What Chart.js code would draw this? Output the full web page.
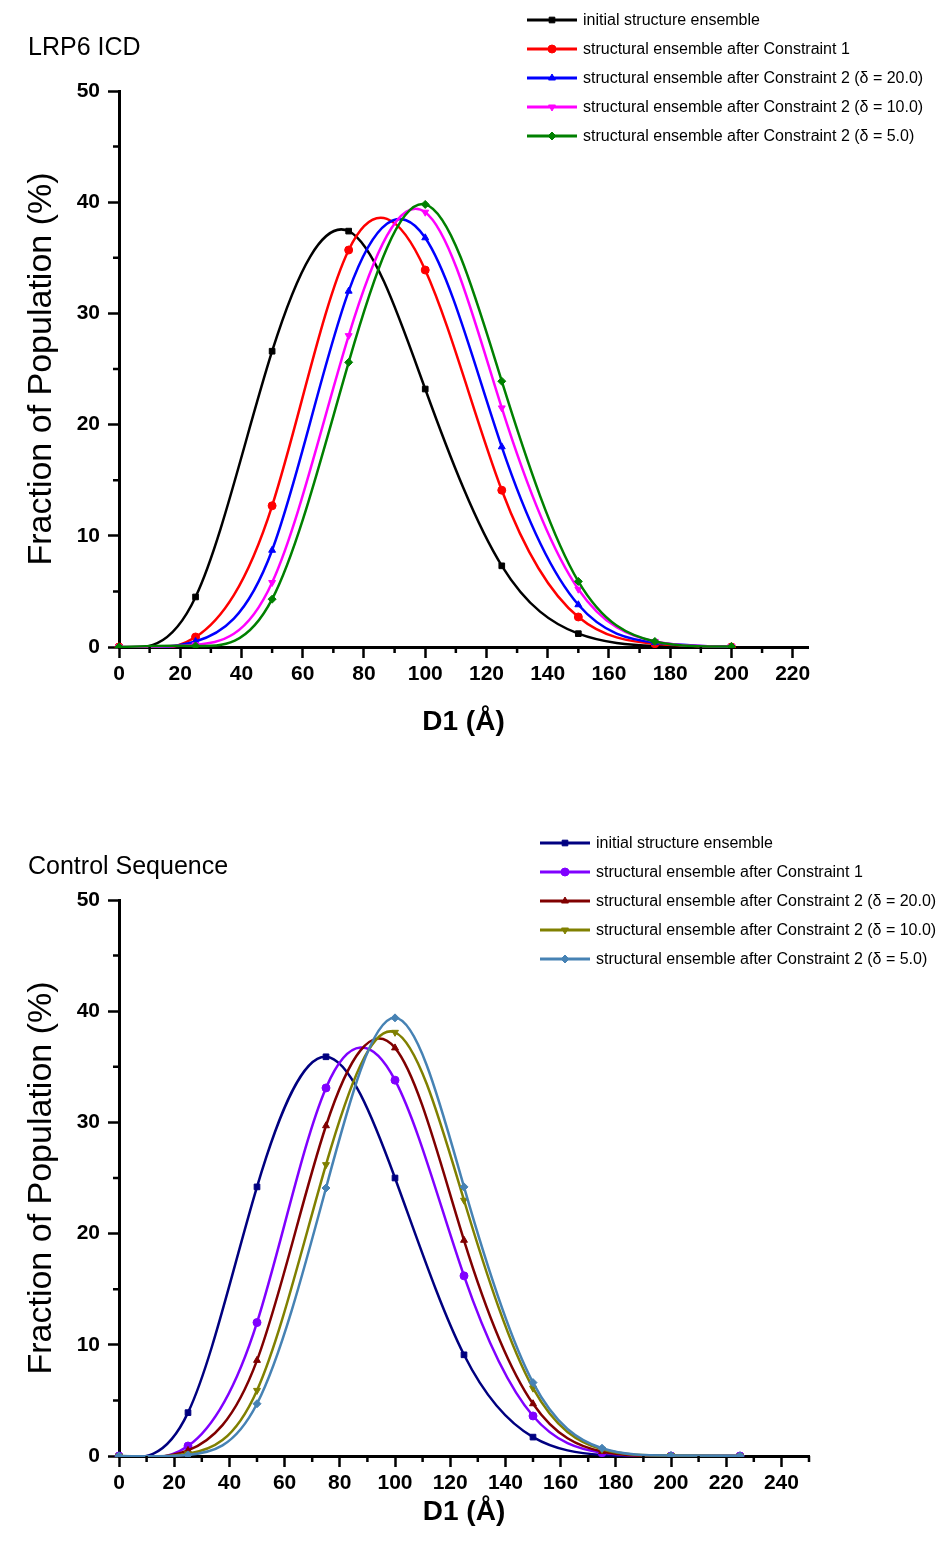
<!DOCTYPE html>
<html>
<head>
<meta charset="utf-8">
<script src="https://cdn.jsdelivr.net/npm/chart.js@4.4.1/dist/chart.umd.min.js"></script>
<style>
  html, body { margin: 0; padding: 0; background: #fff; }
  #wrap { position: relative; width: 947px; height: 1550px; }
  canvas { display: block; }
</style>
</head>
<body>
<div id="wrap">
  <canvas id="lrp6" width="947" height="775"></canvas>
  <canvas id="control" width="947" height="775"></canvas>
</div>
<script>
// D1 sample positions (Å)
const lrpD1 = [0, 25, 50, 75, 100, 125, 150, 175, 200];
const ctrlD1 = [0, 25, 50, 75, 100, 125, 150, 175, 200, 225];

const seriesNames = [
  'initial structure ensemble',
  'structural ensemble after Constraint 1',
  'structural ensemble after Constraint 2 (\u03b4 = 20.0)',
  'structural ensemble after Constraint 2 (\u03b4 = 10.0)',
  'structural ensemble after Constraint 2 (\u03b4 = 5.0)'
];

// LRP6 ICD - fraction of population (%)
const lrpInitial = [0, 4.5, 26.6, 37.4, 23.2, 7.3, 1.2, 0.1, 0];
const lrpC1      = [0, 0.9, 12.7, 35.7, 33.9, 14.1, 2.7, 0.3, 0];
const lrpD20     = [0, 0.5, 8.7, 32.0, 36.8, 18.0, 3.8, 0.4, 0];
const lrpD10     = [0, 0.2, 5.8, 28.0, 39.1, 21.5, 5.2, 0.5, 0.05];
const lrpD5      = [0, 0.1, 4.3, 25.6, 39.8, 23.9, 5.9, 0.5, 0.05];

// Control sequence - fraction of population (%)
const ctrlInitial = [0, 3.9, 24.2, 35.9, 25.0, 9.1, 1.7, 0.1, 0, 0];
const ctrlC1      = [0, 0.9, 12.0, 33.1, 33.8, 16.2, 3.6, 0.3, 0, 0];
const ctrlD20     = [0, 0.5, 8.6, 29.7, 36.7, 19.4, 4.7, 0.4, 0, 0];
const ctrlD10     = [0, 0.2, 5.9, 26.2, 38.1, 23.0, 6.1, 0.6, 0.05, 0];
const ctrlD5      = [0, 0.1, 4.7, 24.1, 39.4, 24.2, 6.6, 0.7, 0.05, 0.02];

// tick labels
const yTicks = [0, 10, 20, 30, 40, 50];
const yMinor = [5, 15, 25, 35, 45];
const lrpXTicks = [0, 20, 40, 60, 80, 100, 120, 140, 160, 180, 200, 220];
const lrpXMinor = [10, 30, 50, 70, 90, 110, 130, 150, 170, 190, 210];
const ctrlXTicks = [0, 20, 40, 60, 80, 100, 120, 140, 160, 180, 200, 220, 240];
const ctrlXMinor = [10, 30, 50, 70, 90, 110, 130, 150, 170, 190, 210, 230, 250];

const lrpColors = ['#000000', '#ff0000', '#0000ff', '#ff00ff', '#008000'];
const ctrlColors = ['#000080', '#8000ff', '#800000', '#808000', '#4682b4'];
const markers = ['rect', 'circle', 'triangle', 'triangle', 'rectRot'];
const markerRot = [0, 0, 0, 180, 0];

const FONT = '"Liberation Sans", Arial, Helvetica, sans-serif';

// natural cubic spline through the points (like Origin's spline connect),
// written into the bezier control points Chart.js already uses
const naturalSpline = {
  id: 'naturalSpline',
  beforeDatasetsDraw(chart) {
    chart.data.datasets.forEach((ds, i) => {
      const meta = chart.getDatasetMeta(i);
      if (meta.dataset && meta.dataset.updateControlPoints) {
        meta.dataset.updateControlPoints(chart.chartArea, 'x');
      }
      const pts = meta.data;
      const n = pts.length;
      if (n < 3) return;
      const xs = pts.map(p => p.x), ys = pts.map(p => p.y);
      const h = [];
      for (let k = 0; k < n - 1; k++) h.push(xs[k + 1] - xs[k]);

      const a = [], b = [], c = [], d = [];
      for (let k = 1; k < n - 1; k++) {
        a.push(h[k - 1]);
        b.push(2 * (h[k - 1] + h[k]));
        c.push(h[k]);
        d.push(6 * ((ys[k + 1] - ys[k]) / h[k] - (ys[k] - ys[k - 1]) / h[k - 1]));
      }
      const m = b.length;
      for (let k = 1; k < m; k++) {
        const w = a[k] / b[k - 1];
        b[k] -= w * c[k - 1];
        d[k] -= w * d[k - 1];
      }
      const M = new Array(n).fill(0);
      M[m] = d[m - 1] / b[m - 1];
      for (let k = m - 2; k >= 0; k--) M[k + 1] = (d[k] - c[k] * M[k + 2]) / b[k];

      for (let k = 0; k < n; k++) {
        const p = pts[k];
        if (k < n - 1) {
          const hk = h[k];
          const s = (ys[k + 1] - ys[k]) / hk - hk * (2 * M[k] + M[k + 1]) / 6;
          p.cp2x = xs[k] + hk / 3;
          p.cp2y = ys[k] + s * hk / 3;
        }
        if (k > 0) {
          const hk = h[k - 1];
          const s = (ys[k] - ys[k - 1]) / hk + hk * (M[k - 1] + 2 * M[k]) / 6;
          p.cp1x = xs[k] - hk / 3;
          p.cp1y = ys[k] - s * hk / 3;
        }
      }
    });
  }
};

// minor ticks, panel title and legend (line + marker samples)
const extras = {
  id: 'extras',
  afterDraw(chart, args, opts) {
    const { ctx } = chart;
    const x = chart.scales.x, y = chart.scales.y;
    ctx.save();
    ctx.strokeStyle = '#000';
    ctx.lineWidth = 2.5;
    ctx.beginPath();
    opts.xMinor.forEach(v => {
      const px = x.getPixelForValue(v);
      ctx.moveTo(px, y.bottom);
      ctx.lineTo(px, y.bottom + 6);
    });
    opts.yMinor.forEach(v => {
      const py = y.getPixelForValue(v);
      ctx.moveTo(x.left, py);
      ctx.lineTo(x.left - 6, py);
    });
    ctx.stroke();

    ctx.fillStyle = '#000';
    ctx.textBaseline = 'middle';
    ctx.font = '25px ' + FONT;
    ctx.fillText(opts.title, 28, opts.titleY);

    ctx.font = '16px ' + FONT;
    chart.data.datasets.forEach((ds, i) => {
      const ly = opts.legendY + i * 29;
      const lx = opts.legendX;
      ctx.strokeStyle = ds.borderColor;
      ctx.lineWidth = 3;
      ctx.beginPath();
      ctx.moveTo(lx, ly);
      ctx.lineTo(lx + 50, ly);
      ctx.stroke();
      ctx.fillStyle = ds.borderColor;
      ctx.lineWidth = 1;
      Chart.helpers.drawPoint(ctx, {
        pointStyle: ds.pointStyle, rotation: ds.pointRotation, radius: 4, borderWidth: 1
      }, lx + 25, ly);
      ctx.fillStyle = '#000';
      ctx.fillText(ds.label, lx + 56, ly + 1);
    });
    ctx.restore();
  }
};

function makeChart(id, cfg) {
  const datasets = cfg.values.map((vals, i) => ({
    label: seriesNames[i],
    data: cfg.xs.map((d, j) => ({ x: d, y: vals[j] })),
    borderColor: cfg.colors[i],
    backgroundColor: cfg.colors[i],
    pointBackgroundColor: cfg.colors[i],
    pointBorderColor: cfg.colors[i],
    pointStyle: markers[i],
    pointRotation: markerRot[i],
    pointRadius: 4,
    pointHoverRadius: 4,
    pointBorderWidth: 1,
    borderWidth: 2.5,
    tension: 0.4,
    capBezierPoints: false,
    fill: false,
    clip: { left: 8, top: 8, right: 8, bottom: 1 },
    order: 5 - i
  }));

  return new Chart(document.getElementById(id), {
    type: 'line',
    data: { datasets },
    options: {
      responsive: false,
      animation: false,
      layout: { padding: cfg.padding },
      plugins: {
        legend: { display: false },
        tooltip: { enabled: false },
        extras: {
          title: cfg.title, titleY: cfg.titleY,
          legendX: cfg.legendX, legendY: cfg.legendY,
          xMinor: cfg.xMinor, yMinor: yMinor
        }
      },
      scales: {
        x: {
          type: 'linear',
          min: 0,
          max: cfg.xMax,
          afterBuildTicks: s => { s.ticks = cfg.xTicks.map(v => ({ value: v })); },
          afterFit: s => { s.height = cfg.xHeight; },
          grid: { drawOnChartArea: false, tickLength: 11, tickWidth: 2.5, tickColor: '#000' },
          border: { color: '#000', width: 3 },
          ticks: {
            color: '#000', padding: 4, maxRotation: 0, autoSkip: false,
            font: { family: FONT, size: 21, weight: 'bold' }
          },
          title: {
            display: true, text: 'D1 (\u00c5)', color: '#000',
            font: { family: FONT, size: 28, weight: 'bold' },
            padding: { top: 0, bottom: cfg.xTitlePad }
          }
        },
        y: {
          min: 0,
          max: 50,
          afterBuildTicks: s => { s.ticks = yTicks.map(v => ({ value: v })); },
          afterFit: s => { s.width = 119; },
          grid: { drawOnChartArea: false, tickLength: 11, tickWidth: 2.5, tickColor: '#000' },
          border: { color: '#000', width: 3 },
          ticks: {
            color: '#000', padding: 8,
            font: { family: FONT, size: 21, weight: 'bold' }
          },
          title: {
            display: true, text: 'Fraction of Population (%)', color: '#000',
            font: { family: FONT, size: 34, weight: 'normal' },
            padding: { top: 21, bottom: 0 }
          }
        }
      }
    },
    plugins: [naturalSpline, extras]
  });
}

makeChart('lrp6', {
  xs: lrpD1,
  values: [lrpInitial, lrpC1, lrpD20, lrpD10, lrpD5],
  colors: lrpColors,
  xMax: 225, xTicks: lrpXTicks, xMinor: lrpXMinor,
  padding: { top: 91, right: 139, bottom: 0, left: 0 },
  xHeight: 128, xTitlePad: 36,
  title: 'LRP6 ICD', titleY: 48,
  legendX: 527, legendY: 20
});

makeChart('control', {
  xs: ctrlD1,
  values: [ctrlInitial, ctrlC1, ctrlD20, ctrlD10, ctrlD5],
  colors: ctrlColors,
  xMax: 250, xTicks: ctrlXTicks, xMinor: ctrlXMinor,
  padding: { top: 125, right: 138, bottom: 0, left: 0 },
  xHeight: 94, xTitlePad: 21,
  title: 'Control Sequence', titleY: 92,
  legendX: 540, legendY: 68
});
</script>
</body>
</html>
